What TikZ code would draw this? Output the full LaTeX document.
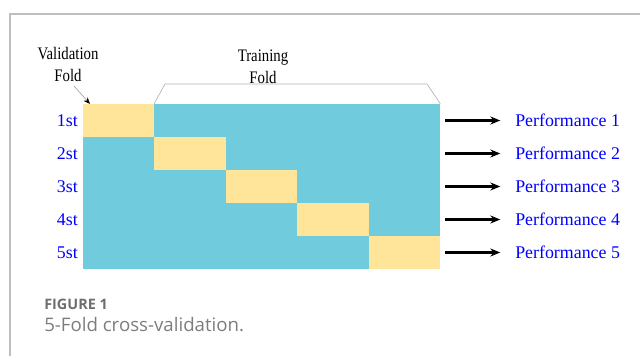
\documentclass[tikz,border=0pt]{standalone}
\usepackage{fontspec}
\setmainfont{Liberation Serif}
\newfontfamily\capfont{Open Sans}
\usetikzlibrary{arrows.meta, positioning}

\definecolor{trainblue}{RGB}{112,203,220}
\definecolor{valyellow}{RGB}{255,229,153}
\definecolor{framegray}{RGB}{190,190,190}
\definecolor{capgray}{RGB}{110,110,110}
\definecolor{textgray}{RGB}{125,125,125}

\newcommand{\narrowtext}[1]{\scalebox{0.84}[1]{#1}}

\tikzset{
    cell/.style={rectangle, inner sep=0pt, minimum width=53.55pt, minimum height=24.75pt, fill=trainblue},
    valcell/.style={cell, fill=valyellow},
    rowlabel/.style={anchor=east, inner sep=0pt, text=blue, font=\fontsize{13.4}{15}\selectfont},
    perf/.style={anchor=west, inner sep=0pt, text=blue, font=\fontsize{13.4}{15}\selectfont},
    header/.style={align=center, inner sep=0pt, font=\fontsize{13.2}{16.5}\selectfont},
    arr/.style={-{Stealth[length=7.5pt, width=6pt]}, line width=1.6pt, shorten >=11pt},
    pointer/.style={draw=gray!70, line width=0.5pt, -{Stealth[length=5pt, width=4pt, color=black]}},
    bracket/.style={draw=gray!60, line width=0.5pt}
}

\begin{document}
\begin{tikzpicture}[x=0.75pt, y=-0.75pt]
    % Canvas and frame
    \useasboundingbox (0,0) rectangle (640,356);
    \draw[framegray, line width=1pt] (10,356) -- (10,14) -- (640,14);

    % Grid of folds
    \foreach \r in {1,...,5} {
        \foreach \c in {1,...,5} {
            \ifnum\r=\c
                \node[valcell] (c-\r-\c) at ({83+71.4*(\c-0.5)},{104+33*(\r-0.5)}) {};
            \else
                \node[cell] (c-\r-\c) at ({83+71.4*(\c-0.5)},{104+33*(\r-0.5)}) {};
            \fi
        }
    }

    % Row labels, arrows and results
    \foreach \r/\t in {1/1st, 2/2st, 3/3st, 4/4st, 5/5st} {
        \node[rowlabel] (l\r) at (78,{104+33*(\r-0.5)}) {\t};
        \coordinate (a\r) at (445,{104+33*(\r-0.5)});
        \node[perf] (p\r) at (515,{104+33*(\r-0.5)}) {Performance \r};
        \draw[arr] (a\r) -- (p\r.west);
    }

    % Headers
    \node[header] (val) at (68,64) {\narrowtext{Validation}\\\narrowtext{Fold}};
    \node[header] (train) at (263,67) {\narrowtext{Training}\\\narrowtext{Fold}};

    % Pointer to the validation fold
    \coordinate (vtail) at (74,86);
    \coordinate (vtip) at (90,104);
    \draw[pointer] (vtail) -- (vtip);

    % Bracket over the training folds
    \coordinate (b1) at (165,84);
    \coordinate (b2) at (427,84);
    \draw[bracket] (c-1-2.north west) -- (b1) -- (b2) -- (c-1-5.north east);

    % Caption
    \node[anchor=west, inner sep=0pt, text=capgray, font=\capfont\bfseries\fontsize{10.8}{12}\selectfont] (fig) at (44,304) {FIGURE 1};
    \node[anchor=west, inner sep=0pt, text=textgray, font=\capfont\fontsize{14}{16}\selectfont] (cap) at (44,325) {5-Fold cross-validation.};
\end{tikzpicture}
\end{document}
